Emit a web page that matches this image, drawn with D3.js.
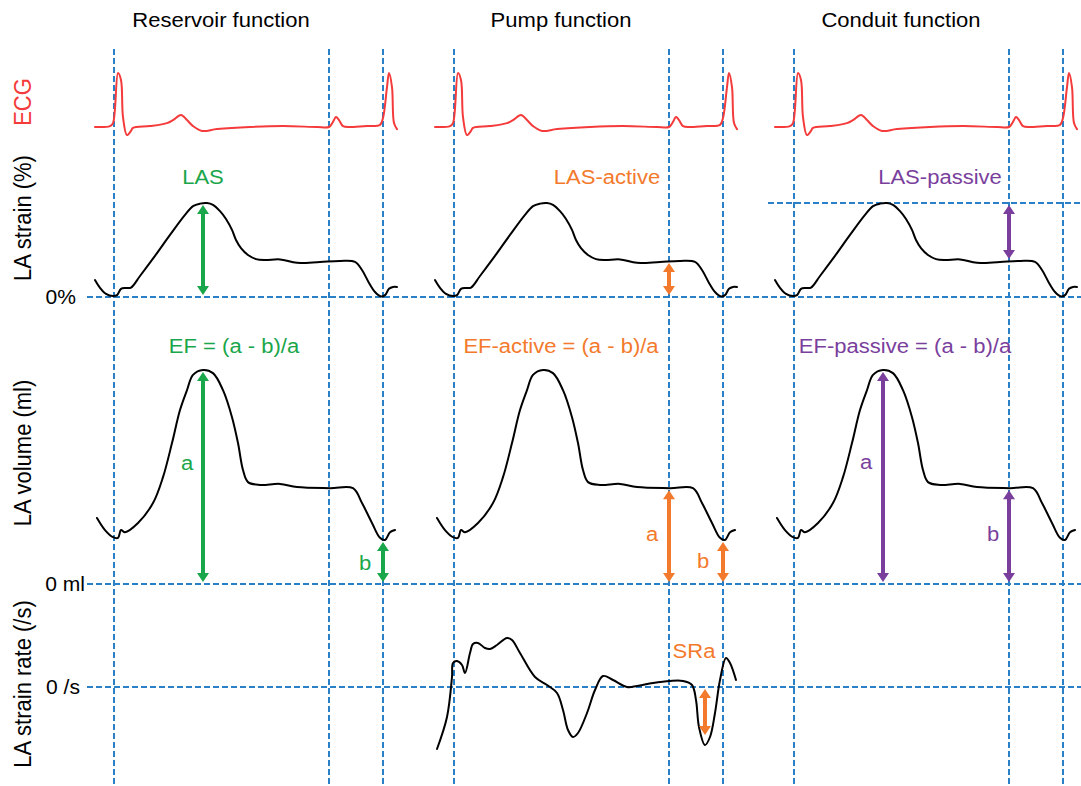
<!DOCTYPE html>
<html>
<head>
<meta charset="utf-8">
<script src="https://cdn.jsdelivr.net/npm/d3@7"></script>
<style>
  html, body { margin: 0; padding: 0; background: #ffffff; }
  svg { display: block; }
  text { font-family: "Liberation Sans", Arial, sans-serif; }
</style>
</head>
<body>
<svg id="chart" width="1081" height="786"></svg>
<script>
// ---------------- DATA ----------------
const panelTitles = ["Reservoir function", "Pump function", "Conduit function"];
const rowLabels = ["ECG", "LA strain (%)", "LA volume (ml)", "LA strain rate (/s)"];
const zeroLabels = ["0%", "0 ml", "0 /s"];
// cardiac events (ms): QRS onset, P-wave onset, next QRS onset
const eventTimes = [0, 860, 1076];

// ECG (mV) vs time (ms)
const ecgT = [-76, -16, -4, 16, 28, 36, 52, 68, 76, 144, 212, 236, 268, 292, 316, 352, 412, 544, 676, 812, 860, 876, 888, 900, 916, 944, 1012, 1064, 1076, 1092, 1100, 1112, 1120, 1132];
const ecgV = [0, 0.03, 0.13, 1.8, 1.57, 0.33, -0.27, -0.13, -0.03, 0.03, 0.13, 0.23, 0.4, 0.23, 0.03, -0.13, -0.07, 0, 0.03, 0, 0, 0.17, 0.33, 0.23, 0.03, 0, 0.03, 0.07, 0.3, 1.33, 1.8, 1.33, 0.13, -0.07];

// LA strain (%) vs time (ms)
const strainT = [-76, -56, -32, -4, 12, 28, 48, 68, 104, 164, 224, 284, 316, 344, 372, 396, 424, 448, 472, 488, 508, 536, 568, 604, 664, 732, 824, 904, 964, 992, 1020, 1044, 1068, 1084, 1100, 1116, 1132];
const strainV = [5.4, 2.9, 1.0, 0.3, 0.6, 2.6, 2.9, 3.0, 6.7, 13.1, 19.8, 26.2, 29.0, 29.8, 30.0, 29.4, 27.4, 24.9, 21.4, 18.2, 15.6, 13.4, 12.1, 11.8, 12.0, 10.9, 11.2, 11.5, 11.2, 8.6, 4.5, 1.6, 0.2, 0.6, 2.6, 3.2, 3.2];

// LA volume (ml) vs time (ms)
const volT = [-68, -36, -4, 16, 28, 44, 96, 156, 196, 232, 264, 292, 316, 356, 396, 436, 472, 496, 516, 536, 584, 664, 732, 864, 956, 992, 1032, 1064, 1084, 1104, 1124];
const volV = [18.6, 15.2, 13.2, 13.0, 15.2, 14.6, 17.2, 22.8, 30.1, 39.7, 49.0, 54.6, 58.9, 60.3, 59.4, 54.6, 47.0, 39.7, 32.1, 28.7, 27.9, 28.2, 27.3, 27.0, 27.0, 22.8, 17.2, 13.0, 12.4, 14.6, 15.2];

// LA strain rate (/s) vs time (ms) - pump panel only
const srT = [-68, -28, -8, -4, 12, 32, 44, 64, 76, 96, 124, 144, 172, 212, 232, 264, 324, 372, 412, 436, 456, 476, 496, 532, 564, 596, 636, 692, 732, 796, 864, 916, 952, 968, 980, 1004, 1024, 1044, 1064, 1088, 1104, 1128];
const srV = [-1.86, -0.9, 0.3, 0.72, 0.78, 0.66, 0.42, 1.02, 1.29, 1.32, 1.17, 1.14, 1.26, 1.47, 1.41, 1.02, 0.3, 0.06, -0.18, -0.69, -1.29, -1.5, -1.38, -0.78, -0.09, 0.33, 0.21, 0.0, 0.03, 0.12, 0.18, 0.18, 0.06, -0.39, -1.2, -1.74, -1.5, -0.78, 0.21, 0.87, 0.72, 0.21];

// annotation arrows: panel, quantity, time (ms), from value, to value
const arrowPanel = [0, 0, 0, 1, 1, 1, 1, 2, 2, 2];
const arrowQty   = ["strain", "vol", "vol", "strain", "vol", "vol", "sr", "strain", "vol", "vol"];
const arrowTime  = [356, 356, 1076, 860, 860, 1076, 1004, 860, 356, 860];
const arrowFrom  = [0, 0, 0, 0, 0, 0, 0, 30, 0, 0];
const arrowTo    = [30, 60.3, 12.4, 11.5, 27.0, 12.4, -1.5, 11.5, 60.3, 27.0];

// text annotations
const annPanel = [0, 0, 0, 0, 1, 1, 1, 1, 1, 2, 2, 2, 2];
const annText  = ["LAS", "EF = (a - b)/a", "a", "b", "LAS-active", "EF-active = (a - b)/a", "a", "b", "SRa", "LAS-passive", "EF-passive = (a - b)/a", "a", "b"];
const annTime  = [356, 480, 292, 1004, 612, 428, 792, 996, 960, 584, 444, 288, 796];
const annQty   = ["strain", "vol", "vol", "vol", "strain", "vol", "vol", "vol", "sr", "strain", "vol", "vol", "vol"];
const annValue = [36.0, 65.2, 32.1, 4.0, 36.0, 65.2, 12.1, 4.5, 0.88, 36.0, 65.2, 32.4, 12.1];

// ---------------- STYLE / LAYOUT ----------------
const panelColors = ["#1aa64a", "#f37a2c", "#7a3f9d"];
const blue = "#2a80c6";
const red = "#f43a3a";
const W = 1081, H = 786;
const panelShift = [0, 340, 680];
const dash = "6,3";
const hsx = 1.13; // horizontal glyph stretch of the reference lettering

const svg = d3.select("#chart");

// time scale for the first panel; other panels shifted
const xBase = d3.scaleLinear().domain([0, 1000]).range([114, 364]);
const xP = (p) => (t) => xBase(t) + panelShift[p];

const yScale = {
  ecg: d3.scaleLinear().domain([0, 1.8]).range([127, 73]),
  strain: d3.scaleLinear().domain([0, 30]).range([297, 203]),
  vol: d3.scaleLinear().domain([0, 60]).range([584, 371]),
  sr: d3.scaleLinear().domain([0, 1.5]).range([687, 637])
};

function addText(x, y, str, opts) {
  const o = Object.assign({ size: 19.5, color: "#000", anchor: "middle", sx: hsx, rotate: 0 }, opts || {});
  svg.append("text")
    .attr("transform", `translate(${x},${y}) scale(${o.sx},1)` + (o.rotate ? ` rotate(${o.rotate})` : ""))
    .attr("text-anchor", o.anchor)
    .attr("font-size", o.size)
    .attr("fill", o.color)
    .text(str);
}

// ---------------- GRID: dashed reference lines ----------------
const vLines = [];
panelShift.forEach((s, p) => eventTimes.forEach(t => vLines.push(xP(p)(t))));
svg.append("g").selectAll("line").data(vLines).join("line")
  .attr("x1", d => d).attr("x2", d => d)
  .attr("y1", 49).attr("y2", H)
  .attr("stroke", blue).attr("stroke-width", 2).attr("stroke-dasharray", dash);

const hZero = [yScale.strain(0), yScale.vol(0), yScale.sr(0)];
svg.append("g").selectAll("line").data(hZero).join("line")
  .attr("x1", 87).attr("x2", W)
  .attr("y1", d => d).attr("y2", d => d)
  .attr("stroke", blue).attr("stroke-width", 2).attr("stroke-dasharray", dash);

// LAS-passive peak reference line (conduit panel)
svg.append("line")
  .attr("x1", xP(2)(-104)).attr("x2", W)
  .attr("y1", yScale.strain(30)).attr("y2", yScale.strain(30))
  .attr("stroke", blue).attr("stroke-width", 2).attr("stroke-dasharray", dash);

// ---------------- TITLES AND AXIS LABELS ----------------
panelTitles.forEach((t, p) => addText(221 + panelShift[p], 27, t));

const rowCenters = [102, 218, 453, 684];
rowLabels.forEach((t, i) => addText(31, rowCenters[i], t, {
  size: 22, sx: 1.05, rotate: -90, color: i === 0 ? red : "#000"
}));

const zeroEnds = [76, 85, 80];
zeroLabels.forEach((t, i) => addText(zeroEnds[i], hZero[i] + 7, t, { anchor: "end", sx: 1.08 }));

// ---------------- CURVES ----------------
const curve = d3.curveCatmullRom.alpha(0.5);
function drawSeries(p, T, V, qty, color, width) {
  const x = xP(p), y = yScale[qty];
  const line = d3.line().x((d, i) => x(T[i])).y((d, i) => y(V[i])).curve(curve);
  svg.append("path").datum(V).attr("d", line)
    .attr("fill", "none").attr("stroke", color)
    .attr("stroke-width", width).attr("stroke-linejoin", "round").attr("stroke-linecap", "round");
}
panelShift.forEach((s, p) => {
  drawSeries(p, ecgT, ecgV, "ecg", red, 2);
  drawSeries(p, strainT, strainV, "strain", "#000", 2);
  drawSeries(p, volT, volV, "vol", "#000", 2);
});
drawSeries(1, srT, srV, "sr", "#000", 2);

// ---------------- ARROWS ----------------
const headLen = 9, headHalf = 6, gap = 2;
arrowPanel.forEach((p, i) => {
  const x = xP(p)(arrowTime[i]);
  const y = yScale[arrowQty[i]];
  let y1 = y(arrowFrom[i]), y2 = y(arrowTo[i]);
  const dir = y2 > y1 ? 1 : -1;
  y1 += dir * gap; y2 -= dir * gap;
  const col = panelColors[p];
  const g = svg.append("g");
  g.append("line").attr("x1", x).attr("x2", x)
    .attr("y1", y1 + dir * (headLen - 1)).attr("y2", y2 - dir * (headLen - 1))
    .attr("stroke", col).attr("stroke-width", 4);
  const pth = d3.path();
  pth.moveTo(x, y1); pth.lineTo(x - headHalf, y1 + dir * headLen); pth.lineTo(x + headHalf, y1 + dir * headLen); pth.closePath();
  pth.moveTo(x, y2); pth.lineTo(x - headHalf, y2 - dir * headLen); pth.lineTo(x + headHalf, y2 - dir * headLen); pth.closePath();
  g.append("path").attr("d", pth.toString()).attr("fill", col);
});

// ---------------- ANNOTATION TEXT ----------------
annPanel.forEach((p, i) => {
  addText(xP(p)(annTime[i]), yScale[annQty[i]](annValue[i]), annText[i], { color: panelColors[p] });
});
</script>
</body>
</html>
